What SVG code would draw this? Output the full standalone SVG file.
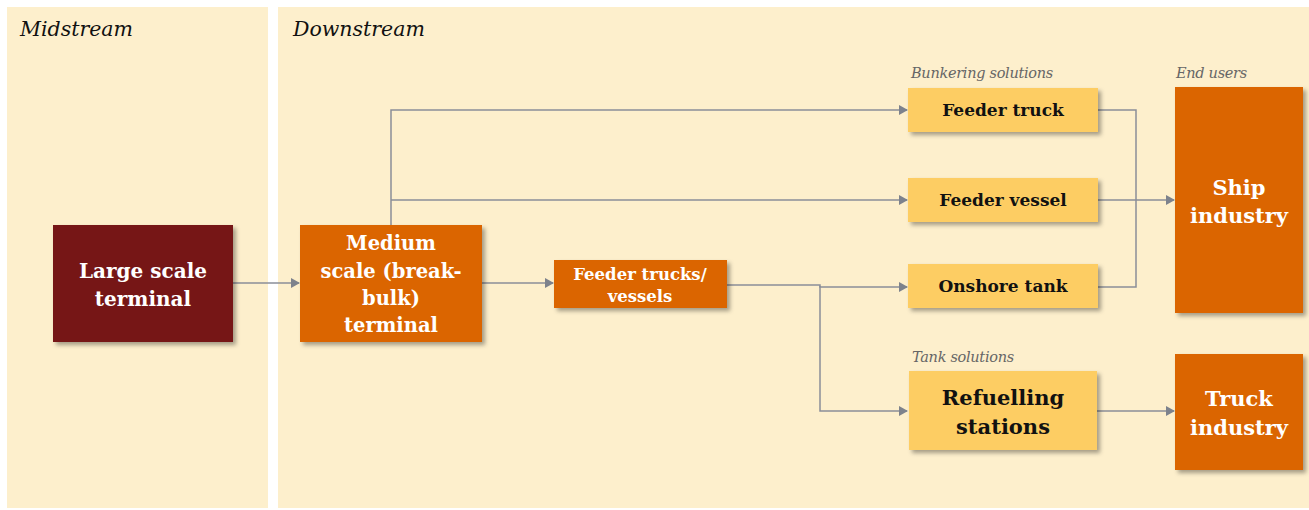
<svg xmlns="http://www.w3.org/2000/svg" width="1309" height="510" viewBox="0 0 1309 510">
<defs>
<filter id="sh" x="-10%" y="-10%" width="130%" height="130%">
<feDropShadow dx="3" dy="3" stdDeviation="2" flood-color="#000" flood-opacity="0.35"/>
</filter>
<marker id="ah" markerWidth="10" markerHeight="10" refX="9" refY="5" orient="auto" markerUnits="userSpaceOnUse">
<path d="M1,0 L10,5 L1,10 Z" fill="#7d828c"/>
</marker>
<style>
.panel{fill:#fdefcc}
.hdr{font-family:"DejaVu Serif","Liberation Serif",serif;font-style:italic;font-size:20.5px;fill:#111}
.sub{font-family:"DejaVu Serif","Liberation Serif",serif;font-style:italic;font-size:14.5px;fill:#666;letter-spacing:-0.3px}
.wt{font-family:"DejaVu Serif","Liberation Serif",serif;font-weight:bold;fill:#fff;text-anchor:middle}
.bt{font-family:"DejaVu Serif","Liberation Serif",serif;font-weight:bold;fill:#111;text-anchor:middle}
.ln{fill:none;stroke:#8a8e98;stroke-width:1.5}
.dark{fill:#761818}
.org{fill:#db6500}
.yel{fill:#fdcd63}
</style>
</defs>
<rect width="1309" height="510" fill="#fff"/>
<rect class="panel" x="7" y="7" width="261" height="501"/>
<rect class="panel" x="278" y="7" width="1031" height="501"/>
<text class="hdr" x="20" y="36">Midstream</text>
<text class="hdr" x="293" y="36">Downstream</text>
<text class="sub" x="911" y="78">Bunkering solutions</text>
<text class="sub" x="1176" y="78">End users</text>
<text class="sub" x="912" y="362">Tank solutions</text>

<g id="connectors">
<path class="ln" d="M233,283 H299" marker-end="url(#ah)"/>
<path class="ln" d="M391,225 V110 H907" marker-end="url(#ah)"/>
<path class="ln" d="M391,200 H907" marker-end="url(#ah)"/>
<path class="ln" d="M482,283 H553" marker-end="url(#ah)"/>
<path class="ln" d="M727,285 H820 V287 H907" marker-end="url(#ah)"/>
<path class="ln" d="M820,286 V411 H907" marker-end="url(#ah)"/>
<path class="ln" d="M1098,110 H1136 V287 H1098"/>
<path class="ln" d="M1098,200 H1174" marker-end="url(#ah)"/>
<path class="ln" d="M1097,411 H1174" marker-end="url(#ah)"/>
</g>

<g id="large-terminal">
<rect class="dark" x="53" y="225" width="180" height="117" filter="url(#sh)"/>
<text class="wt" font-size="20" x="143" y="278">Large scale</text>
<text class="wt" font-size="20" x="143" y="306">terminal</text>
</g>
<g id="medium-terminal">
<rect class="org" x="300" y="225" width="182" height="117" filter="url(#sh)"/>
<text class="wt" font-size="19.5" x="391" y="250">Medium</text>
<text class="wt" font-size="19.5" x="391" y="278">scale (break-</text>
<text class="wt" font-size="19.5" x="391" y="305">bulk)</text>
<text class="wt" font-size="19.5" x="391" y="332">terminal</text>
</g>
<g id="feeder-trucks-vessels">
<rect class="org" x="554" y="260" width="173" height="48" filter="url(#sh)"/>
<text class="wt" font-size="16.5" x="640" y="280">Feeder trucks/</text>
<text class="wt" font-size="16.5" x="640" y="302">vessels</text>
</g>
<g id="feeder-truck">
<rect class="yel" x="908" y="88" width="190" height="44" filter="url(#sh)"/>
<text class="bt" font-size="17" x="1003" y="116">Feeder truck</text>
</g>
<g id="feeder-vessel">
<rect class="yel" x="908" y="178" width="190" height="44" filter="url(#sh)"/>
<text class="bt" font-size="17" x="1003" y="206">Feeder vessel</text>
</g>
<g id="onshore-tank">
<rect class="yel" x="908" y="264" width="190" height="44" filter="url(#sh)"/>
<text class="bt" font-size="17" x="1003" y="292">Onshore tank</text>
</g>
<g id="refuelling-stations">
<rect class="yel" x="909" y="371" width="188" height="79" filter="url(#sh)"/>
<text class="bt" font-size="21" x="1003" y="405">Refuelling</text>
<text class="bt" font-size="21" x="1003" y="434">stations</text>
</g>
<g id="ship-industry">
<rect class="org" x="1175" y="87" width="128" height="226" filter="url(#sh)"/>
<text class="wt" font-size="21" x="1239" y="195">Ship</text>
<text class="wt" font-size="21" x="1239" y="223">industry</text>
</g>
<g id="truck-industry">
<rect class="org" x="1175" y="354" width="128" height="116" filter="url(#sh)"/>
<text class="wt" font-size="21" x="1239" y="406">Truck</text>
<text class="wt" font-size="21" x="1239" y="435">industry</text>
</g>
</svg>
